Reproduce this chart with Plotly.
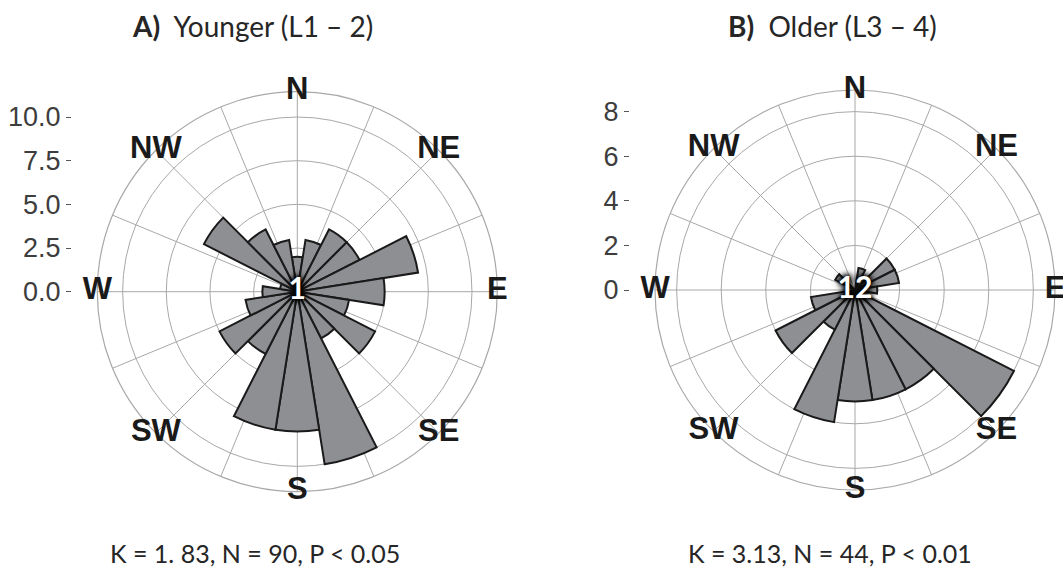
import plotly.graph_objects as go

# ---------------- data ----------------
bin_centers = [0, 18, 36, 54, 72, 90, 108, 126, 144, 162,
               180, 198, 216, 234, 252, 270, 288, 306, 324, 342]
bin_width = 18
counts_younger = [2, 3, 4, 4, 7, 5, 3, 5, 3, 10, 8, 8, 4, 5, 3, 2, 1, 6, 4, 3]
counts_older = [0, 1, 0, 2, 2, 1, 0, 8, 5, 5, 5, 6, 2, 4, 2, 0, 0, 1, 0, 0]

compass_labels = ["N", "NE", "E", "SE", "S", "SW", "W", "NW"]
compass_angles = [0, 45, 90, 135, 180, 225, 270, 315]
spoke_angles = [0, 22.5, 45, 67.5, 90, 112.5, 135, 157.5,
                180, 202.5, 225, 247.5, 270, 292.5, 315, 337.5]

rings_younger = [2.5, 5, 7.5, 10]
ticks_younger = [0, 2.5, 5, 7.5, 10]
ticktext_younger = ["0.0", "2.5", "5.0", "7.5", "10.0"]
rmax_younger = 11.45

rings_older = [2, 4, 6, 8]
ticks_older = [0, 2, 4, 6, 8]
ticktext_older = ["0", "2", "4", "6", "8"]
rmax_older = 8.97

center_labels = ["1", "12"]
titles = ["<b>A)</b>\u00a0\u00a0Younger (L1 \u2013 2)", "<b>B)</b>\u00a0\u00a0Older (L3 \u2013 4)"]
captions = ["K = 1. 83, N = 90, P < 0.05", "K = 3.13, N = 44, P < 0.01"]

# ---------------- style ----------------
W, H = 1063, 575
BAR_FILL = "#8e8f93"
BAR_LINE = "#1a1a1a"
GRID = "#a8a8a8"
TEXT_FONT = "Lato"
AXIS_FONT = "Liberation Sans, Arial, sans-serif"


def px_x(x):
    return x / W


def px_y(y):
    return 1 - y / H


panels = [
    dict(counts=counts_younger, rings=rings_younger, ticks=ticks_younger,
         ticktext=ticktext_younger, rmax=rmax_younger, cx=297.3, cy=291.7, R=200,
         axis_x=72, center=center_labels[0], title=titles[0], title_x=252,
         caption=captions[0], caption_x=255),
    dict(counts=counts_older, rings=rings_older, ticks=ticks_older,
         ticktext=ticktext_older, rmax=rmax_older, cx=855, cy=290, R=200,
         axis_x=630, center=center_labels[1], title=titles[1], title_x=832,
         caption=captions[1], caption_x=830),
]

fig = go.Figure()
layout = dict(
    width=W, height=H, autosize=False,
    margin=dict(l=0, r=0, t=0, b=0, pad=0, autoexpand=False),
    paper_bgcolor="white", plot_bgcolor="white",
    showlegend=False,
    annotations=[],
)

for i, p in enumerate(panels):
    pname = "polar" if i == 0 else "polar2"
    sub = "polar" if i == 0 else "polar2"
    xname = "x" if i == 0 else "x2"
    yname = "y" if i == 0 else "y2"
    xkey = "xaxis" if i == 0 else "xaxis2"
    ykey = "yaxis" if i == 0 else "yaxis2"

    fig.add_trace(go.Barpolar(
        r=p["counts"], theta=bin_centers, width=[bin_width] * len(bin_centers),
        marker=dict(color=BAR_FILL, line=dict(color=BAR_LINE, width=2)),
        subplot=sub, hoverinfo="skip",
    ))
    fig.add_trace(go.Scatterpolar(
        r=[p["rmax"]] * len(compass_labels), theta=compass_angles,
        text=compass_labels, mode="text", textposition="middle center",
        textfont=dict(family=AXIS_FONT, size=31, color="#1a1a1a", weight="bold"),
        cliponaxis=False, subplot=sub, hoverinfo="skip",
    ))
    fig.add_trace(go.Scatterpolar(
        r=[0], theta=[0], text=[p["center"]], mode="text",
        textposition="middle center",
        textfont=dict(family=TEXT_FONT, size=30, color="white", weight="bold",
                      shadow="0px 0px 4px #000, 0px 0px 5px #000, 0px 0px 7px #000, 0px 0px 9px #000"),
        cliponaxis=False, subplot=sub, hoverinfo="skip",
    ))
    # invisible trace carrying the radial-scale axis drawn at the left of each rose
    fig.add_trace(go.Scatter(
        x=[0] * len(p["ticks"]), y=p["ticks"], mode="markers",
        marker=dict(opacity=0), xaxis=xname, yaxis=yname, hoverinfo="skip",
    ))

    layout[pname] = dict(
        domain=dict(x=[px_x(p["cx"] - p["R"]), px_x(p["cx"] + p["R"])],
                    y=[px_y(p["cy"] + p["R"]), px_y(p["cy"] - p["R"])]),
        bgcolor="white",
        angularaxis=dict(
            direction="clockwise", rotation=90,
            tickmode="array", tickvals=spoke_angles, showticklabels=False,
            ticks="", showgrid=True, gridcolor=GRID, gridwidth=1.2,
            showline=True, linecolor=GRID, linewidth=1.2, layer="below traces",
        ),
        radialaxis=dict(
            range=[0, p["rmax"]], tickmode="array", tickvals=p["rings"],
            showticklabels=False, ticks="", showline=False,
            showgrid=True, gridcolor=GRID, gridwidth=1.2, layer="below traces",
        ),
    )
    layout[xkey] = dict(
        domain=[px_x(p["axis_x"]), px_x(p["axis_x"] + 2)], range=[-1, 1],
        visible=False, anchor=yname,
    )
    layout[ykey] = dict(
        domain=[px_y(p["cy"]), px_y(p["cy"] - p["R"])],
        range=[0, p["rmax"]], anchor=xname, automargin=False,
        tickmode="array", tickvals=p["ticks"], ticktext=p["ticktext"],
        ticks="outside", ticklen=5, tickwidth=1, tickcolor="#555555",
        showgrid=False, zeroline=False, showline=False,
        tickfont=dict(family=AXIS_FONT, size=27, color="#3d3d3d"),
    )
    layout["annotations"].append(dict(
        text=p["title"], x=px_x(p["title_x"]), y=px_y(26), xref="paper", yref="paper",
        xanchor="center", yanchor="middle", showarrow=False,
        font=dict(family=TEXT_FONT, size=28, color="#262626"),
    ))
    layout["annotations"].append(dict(
        text=p["caption"], x=px_x(p["caption_x"]), y=px_y(553), xref="paper", yref="paper",
        xanchor="center", yanchor="middle", showarrow=False,
        font=dict(family=TEXT_FONT, size=25, color="#262626"),
    ))

fig.update_layout(**layout)
fig.write_html("out.html", config={"displayModeBar": False},
               post_script="document.body.style.margin='0px';")
